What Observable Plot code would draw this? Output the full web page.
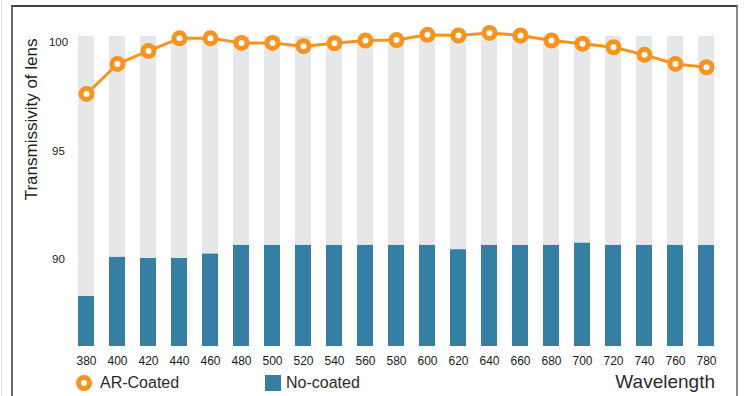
<!DOCTYPE html>
<html>
<head>
<meta charset="utf-8">
<script src="https://cdn.jsdelivr.net/npm/d3@7"></script>
<script src="https://cdn.jsdelivr.net/npm/@observablehq/plot@0.6"></script>
<style>
  body { margin: 0; background: #fff; }
  #wrap { position: relative; width: 745px; height: 396px; overflow: hidden; background: #fff; font-family: "Liberation Sans", Arial, sans-serif; }
  .abs { position: absolute; }
  .lg { position: absolute; color: #2b2b2b; white-space: nowrap; }
</style>
</head>
<body>
<div id="wrap">
  <div class="abs" style="left:1px;top:0;width:1px;height:396px;background:#e2e2e2"></div>
  <div class="abs" style="left:11px;top:5px;width:723px;height:420px;border-left:2px solid #6a6a6a;border-top:2px solid #444;border-right:2px solid #8a8a8a"></div>
  <div id="chart" class="abs" style="left:0;top:0"></div>
  <div class="abs" style="left:76px;top:375px;width:16px;height:16px;box-sizing:border-box;border-radius:50%;border:5px solid #f7931e;background:#fff"></div>
  <div class="lg" style="left:100px;top:374.5px;font-size:16px;line-height:16px">AR-Coated</div>
  <div class="abs" style="left:265px;top:375px;width:16px;height:16px;background:#357fa2"></div>
  <div class="lg" style="left:286px;top:374.5px;font-size:16px;line-height:16px">No-coated</div>
  <div class="lg" style="right:30px;top:372px;font-size:19px;line-height:19px">Wavelength</div>
</div>
<script>
const wavelengths = [380, 400, 420, 440, 460, 480, 500, 520, 540, 560, 580, 600, 620, 640, 660, 680, 700, 720, 740, 760, 780];
const noCoated = [88.3, 90.1, 90.05, 90.05, 90.25, 90.65, 90.65, 90.65, 90.65, 90.65, 90.65, 90.65, 90.45, 90.65, 90.65, 90.65, 90.75, 90.65, 90.65, 90.65, 90.65];
const arCoated = [97.62, 99.0, 99.6, 100.18, 100.18, 99.97, 99.97, 99.82, 99.95, 100.08, 100.1, 100.34, 100.31, 100.43, 100.31, 100.08, 99.93, 99.77, 99.42, 99.0, 98.85];
const yTicks = [90, 95, 100];
const yBase = 86;
const backgroundTop = 100.27;
const yLabel = "Transmissivity of lens";

const data = wavelengths.map((w, i) => ({w, nc: noCoated[i], ar: arCoated[i]}));

const chart = Plot.plot({
  width: 745,
  height: 370,
  marginLeft: 62,
  marginRight: 16,
  marginTop: 20,
  marginBottom: 24,
  style: {fontFamily: "'Liberation Sans', Arial, sans-serif", fontSize: "12px", color: "#1a1a1a", background: "transparent", overflow: "visible"},
  x: {type: "band", domain: wavelengths, padding: 0.485},
  y: {domain: [86, 101]},
  marks: [
    Plot.barY(data, {x: "w", y1: yBase, y2: backgroundTop, fill: "#e6e7e8"}),
    Plot.barY(data, {x: "w", y1: yBase, y2: "nc", fill: "#357fa2"}),
    Plot.line(data, {x: "w", y: "ar", stroke: "#f7931e", strokeWidth: 3}),
    Plot.dot(data, {x: "w", y: "ar", r: 5.5, stroke: "#f7931e", strokeWidth: 5, fill: "white"}),
    Plot.axisX({tickSize: 0, tickPadding: 10, label: null, fontSize: 12}),
    Plot.axisY({ticks: yTicks, tickSize: 0, textAnchor: "middle", dx: 5, label: null, fontSize: 11.5}),
    Plot.text([yLabel], {frameAnchor: "top-left", rotate: -90, textAnchor: "end", dx: -38, dy: 18, fontSize: 17, fill: "#222"})
  ]
});
document.getElementById("chart").appendChild(chart);
</script>
</body>
</html>
